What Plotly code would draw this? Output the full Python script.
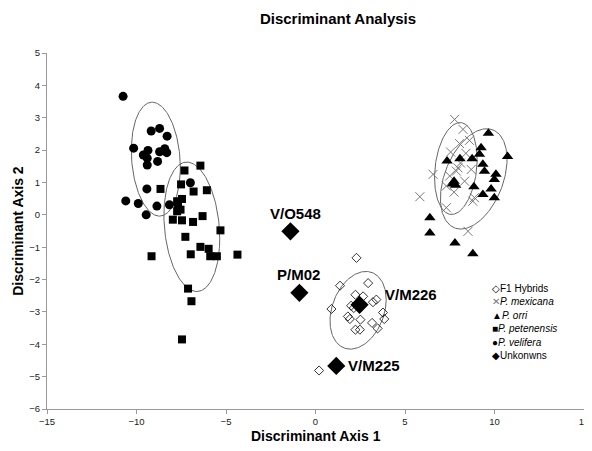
import numpy as np
import plotly.graph_objects as go

# ---------------- data ----------------
hybrid_x = [2.29, 1.37, 2.94, 2.23, 2.66, 0.89, 3.40, 3.21, 1.99, 1.81, 1.92, 2.51, 3.77, 3.84, 3.16, 3.47, 2.23, 2.48, 2.14, 0.20]
hybrid_y = [-1.33, -2.19, -2.11, -2.47, -2.52, -2.91, -2.62, -2.70, -2.81, -3.14, -3.22, -3.24, -3.02, -3.22, -3.34, -3.51, -3.55, -3.55, -2.88, -4.81]

mexicana_x = [7.77, 8.24, 7.55, 7.96, 6.57, 5.83, 7.31, 7.74, 8.33, 8.88, 8.79, 7.31, 7.87, 8.52, 8.05, 8.60, 8.40, 7.50, 8.70, 8.10]
mexicana_y = [2.95, 2.64, 1.94, 1.45, 1.25, 0.56, 0.89, 0.70, 1.04, 0.53, 0.42, 0.22, 1.35, -0.51, 2.20, 2.30, 1.90, 1.20, 1.40, 1.60]

orri_x = [9.66, 10.73, 9.25, 9.16, 8.75, 8.07, 7.35, 9.35, 9.44, 10.08, 9.99, 9.81, 9.35, 9.99, 8.85, 7.74, 7.83, 7.65, 6.39, 6.39, 7.79, 8.79]
orri_y = [2.52, 1.80, 2.07, 1.87, 1.73, 1.73, 1.66, 1.56, 1.35, 1.25, 1.09, 0.80, 0.63, 0.53, 0.87, 1.04, 0.91, 0.95, -0.09, -0.56, -0.87, -1.20]

petenensis_x = [-6.43, -7.32, -8.66, -7.51, -6.81, -6.07, -7.73, -7.46, -7.68, -7.54, -7.73, -7.97, -7.46, -6.84, -6.31, -5.31, -7.27, -6.43, -5.97, -6.97, -5.88, -5.51, -9.16, -4.36, -7.12, -6.93, -7.46]
petenensis_y = [1.52, 1.37, 0.80, 0.94, 0.72, 0.76, 0.42, 0.49, 0.27, 0.16, 0.11, -0.15, -0.17, -0.22, -0.04, -0.48, -0.68, -0.99, -1.05, -1.22, -1.28, -1.28, -1.28, -1.23, -2.28, -2.67, -3.85]

velifera_x = [-10.75, -9.18, -8.71, -8.29, -10.16, -9.36, -9.62, -9.40, -9.40, -8.82, -8.71, -8.42, -8.31, -9.42, -10.60, -9.90, -8.86, -9.46, -8.16, -6.99]
velifera_y = [3.66, 2.59, 2.67, 2.43, 2.06, 1.99, 1.85, 1.75, 1.54, 1.65, 1.95, 2.04, 1.92, 0.80, 0.43, 0.35, 0.27, 0.00, 0.31, 0.99]

unknown_x = [-1.40, -0.90, 2.46, 1.16]
unknown_y = [-0.51, -2.41, -2.78, -4.67]
unknown_labels = ["V/O548", "P/M02", "V/M226", "V/M225"]

# group ellipses: centre, semi-extent in x and y, tilt
ell_cx = [-8.92, -6.91, 2.38, 7.84, 8.84]
ell_cy = [1.72, -0.37, -2.95, 1.43, 1.11]
ell_rx = [1.37, 1.56, 1.57, 1.19, 1.86]
ell_ry = [1.76, 2.00, 1.20, 1.42, 1.55]
ell_tilt = [0.15, 0.18, -0.28, -0.20, -0.40]

legend_names = ["F1 Hybrids", "<i>P. mexicana</i>", "<i>P. orri</i>",
                "<i>P. petenensis</i>", "<i>P. velifera</i>", "Unkonwns"]
legend_symbols = ["◇", "<span style='color:#777'>✕</span>", "▲", "■", "●", "◆"]

x_ticks = [-15, -10, -5, 0, 5, 10, 15]
y_ticks = [-6, -5, -4, -3, -2, -1, 0, 1, 2, 3, 4, 5]

FONT = "Arial, Liberation Sans, sans-serif"

# the page body adds an 8px margin, so the figure is 8px smaller
W, H = 584, 443
L, R, T, B = 39, 3, 45, 42
PW, PH = W - L - R, H - T - B
plot_bottom = H - B

fig = go.Figure()

# ellipses
t = np.linspace(0, 2 * np.pi, 200)
for cx, cy, rx, ry, ph in zip(ell_cx, ell_cy, ell_rx, ell_ry, ell_tilt):
    fig.add_trace(go.Scatter(
        x=cx + rx * np.cos(t), y=cy + ry * np.sin(t - ph),
        mode="lines", line=dict(color="#666", width=1),
        hoverinfo="skip", showlegend=False))

fig.add_trace(go.Scatter(x=hybrid_x, y=hybrid_y, mode="markers", name="F1 Hybrids",
                         marker=dict(symbol="diamond-open", size=7, color="black",
                                     line=dict(width=0.8, color="black")),
                         showlegend=False))
fig.add_trace(go.Scatter(x=mexicana_x, y=mexicana_y, mode="markers", name="P. mexicana",
                         marker=dict(symbol="x-thin", size=9, color="#777",
                                     line=dict(width=1, color="#777")),
                         showlegend=False))
fig.add_trace(go.Scatter(x=orri_x, y=orri_y, mode="markers", name="P. orri",
                         marker=dict(symbol="triangle-up", size=10, color="black",
                                     line=dict(width=0)),
                         showlegend=False))
fig.add_trace(go.Scatter(x=petenensis_x, y=petenensis_y, mode="markers", name="P. petenensis",
                         marker=dict(symbol="square", size=8, color="black",
                                     line=dict(width=0)),
                         showlegend=False))
fig.add_trace(go.Scatter(x=velifera_x, y=velifera_y, mode="markers", name="P. velifera",
                         marker=dict(symbol="circle", size=9, color="black",
                                     line=dict(width=0)),
                         showlegend=False))
fig.add_trace(go.Scatter(x=unknown_x, y=unknown_y, mode="markers", name="Unkonwns",
                         marker=dict(symbol="diamond", size=14, color="black",
                                     line=dict(width=0)),
                         showlegend=False))

# unknown labels
label_pos = [("center", 5, 18), ("center", -1, 18), ("left", 23, 10), ("left", 10, 0)]
for lx, ly, txt, (anc, dx, dy) in zip(unknown_x, unknown_y, unknown_labels, label_pos):
    fig.add_annotation(x=lx, y=ly, xref="x", yref="y", text="<b>%s</b>" % txt,
                       showarrow=False, xanchor=anc, yanchor="middle",
                       xshift=dx, yshift=dy,
                       font=dict(family=FONT, size=15, color="black"))

# legend built from text entries
for i, (sym, name) in enumerate(zip(legend_symbols, legend_names)):
    py = 280.3 + i * 13.45
    fig.add_annotation(x=(486 - L) / PW, y=(plot_bottom - py) / PH,
                       xref="paper", yref="paper", text=sym + name,
                       showarrow=False, xanchor="left", yanchor="middle",
                       font=dict(family=FONT, size=10, color="black"))

# axis titles
fig.add_annotation(x=0.5, y=(plot_bottom - 427.7) / PH, xref="paper", yref="paper",
                   text="<b>Discriminant Axis 1</b>", showarrow=False,
                   xanchor="center", yanchor="middle",
                   font=dict(family=FONT, size=14, color="black"))
fig.add_annotation(x=(9.5 - L) / PW, y=0.5, xref="paper", yref="paper",
                   text="<b>Discriminant Axis 2</b>", showarrow=False, textangle=-90,
                   xanchor="center", yanchor="middle",
                   font=dict(family=FONT, size=14, color="black"))

axis_common = dict(showline=True, linecolor="#999", linewidth=1, ticks="outside",
                   ticklen=4, tickcolor="#999", showgrid=False, zeroline=False,
                   tickfont=dict(family=FONT, size=9.5, color="#222"), mirror=False,
                   ticklabeloverflow="allow")

fig.update_layout(
    width=W, height=H,
    margin=dict(l=L, r=R, t=T, b=B),
    paper_bgcolor="white", plot_bgcolor="white",
    title=dict(text="<b>Discriminant Analysis</b>", x=330 / W, xref="container",
               xanchor="center", y=1 - 11 / H, yref="container", yanchor="middle",
               font=dict(family=FONT, size=15, color="black")),
    xaxis=dict(range=[-15, 15], tickvals=x_ticks, **axis_common),
    yaxis=dict(range=[-6, 5], tickvals=y_ticks, **axis_common),
    showlegend=False,
)

fig.write_html("out.html")
